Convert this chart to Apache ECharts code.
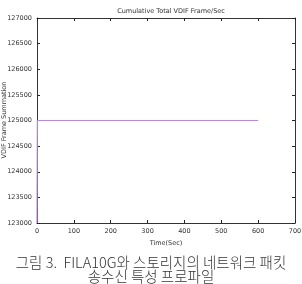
<!DOCTYPE html>
<html><head><meta charset="utf-8">
<script src="https://cdn.jsdelivr.net/npm/echarts@6/dist/echarts.min.js"></script>
<style>html,body{margin:0;padding:0;background:#fff}#c{width:302px;height:284px}</style>
</head><body><div id="c"></div>
<script>
const chartTitle = 'Cumulative Total VDIF Frame/Sec';
const xName = 'Time(Sec)';
const yName = 'VDIF Frame Summation';
const captionLines = ['그림 3.  FILA10G와 스토리지의 네트워크 패킷', '송수신 특성 프로파일'];
const timeSec = [0, 1, 600];
const frameSum = [123000, 125000, 125000];
const xTicks = [0, 100, 200, 300, 400, 500, 600, 700];
const yTicks = [123000, 123500, 124000, 124500, 125000, 125500, 126000, 126500, 127000];

const chart = echarts.init(document.getElementById('c'));
const tickFont = {fontSize: 6.5, color: '#333', fontFamily: 'DejaVu Sans'};
function axisBase() {
  return {
    axisLine: {show: true, onZero: false, lineStyle: {color: '#333', width: 1}},
    axisTick: {show: true, inside: true, length: 3, lineStyle: {color: '#222', width: 1}},
    splitLine: {show: false}
  };
}
chart.setOption({
  animation: false,
  title: {text: chartTitle, left: 166, top: 3, textAlign: 'center',
    textStyle: {fontSize: 6.5, fontWeight: 'normal', color: '#333', fontFamily: 'DejaVu Sans'}},
  grid: {left: 37, right: 7, top: 18, bottom: 61, containLabel: false, outerBoundsMode: 'none'},
  xAxis: [
    Object.assign(axisBase(), {type: 'value', min: xTicks[0], max: xTicks[xTicks.length-1], interval: 100,
      name: xName, nameLocation: 'middle', nameGap: 15, nameTextStyle: tickFont,
      axisLabel: Object.assign({margin: 5}, tickFont)}),
    Object.assign(axisBase(), {type: 'value', position: 'top', min: 0, max: 700, interval: 100, axisLabel: {show: false}})
  ],
  yAxis: [
    Object.assign(axisBase(), {type: 'value', min: yTicks[0], max: yTicks[yTicks.length-1], interval: 500,
      axisLabel: Object.assign({margin: 5, formatter: v => String(v)}, tickFont)}),
    Object.assign(axisBase(), {type: 'value', position: 'right', min: 123000, max: 127000, interval: 500, axisLabel: {show: false}})
  ],
  graphic: captionLines.map((t, i) => ({
    type: 'text', left: 'center', top: 255 + i * 14,
    style: {text: t, fontSize: 14.5, fill: '#333', fontFamily: 'Noto Sans CJK KR', fontWeight: 300}
  })).concat([{
    type: 'text', x: 1, y: 120, rotation: Math.PI / 2,
    style: {text: yName, fontSize: 6.5, fill: '#333', fontFamily: 'DejaVu Sans', align: 'center', verticalAlign: 'top'}
  }]),
  series: [{
    type: 'line', data: timeSec.map((t, i) => [t, frameSum[i]]),
    showSymbol: false, lineStyle: {color: '#b88ad8', width: 1.2}, clip: true
  }]
});
</script></body></html>
